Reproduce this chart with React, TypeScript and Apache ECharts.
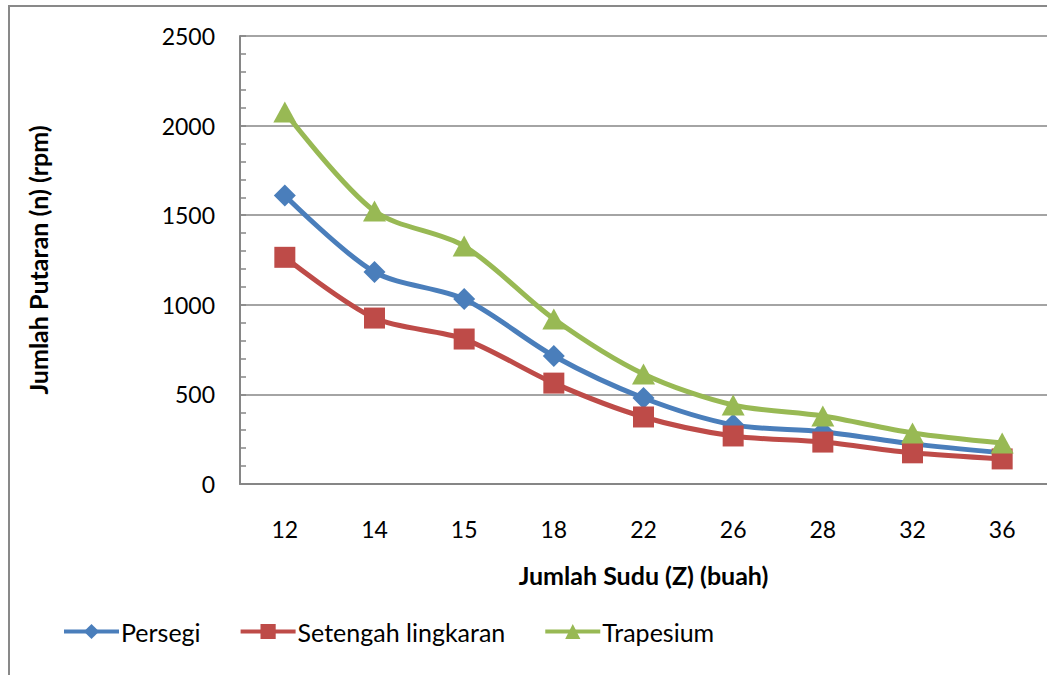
import React, { useEffect, useRef } from "react";
import * as echarts from "echarts";

const categories = ["12", "14", "15", "18", "22", "26", "28", "32", "36"];
const persegi = [1610, 1183, 1032, 714, 480, 330, 292, 224, 174];
const setengah = [1265, 926, 809, 563, 374, 268, 234, 174, 140];
const trapesium = [2076, 1523, 1328, 921, 614, 441, 379, 285, 229];
const yTicks = { min: 0, max: 2500, interval: 500 };

const FONT = "Lato, 'Open Sans', sans-serif";
const GRID = "#868686";

export default function App() {
  const ref = useRef<HTMLDivElement>(null);
  useEffect(() => {
    if (!ref.current) return;
    const chart = echarts.init(ref.current, undefined, { renderer: "svg" });
    const mk = (name: string, data: number[], color: string, symbol: string, size: number | number[]) => ({
      name,
      type: "line",
      data,
      smooth: 0.3,
      symbol,
      symbolSize: size,
      lineStyle: { color, width: 5 },
      itemStyle: { color },
      emphasis: { disabled: true },
    });
    chart.setOption({
      animation: false,
      backgroundColor: "#ffffff",
      textStyle: { fontFamily: FONT, color: "#000" },
      grid: { left: 240, top: 36, width: 810, height: 448, containLabel: false },
      xAxis: {
        type: "category",
        data: categories,
        boundaryGap: true,
        name: "Jumlah Sudu (Z) (buah)",
        nameLocation: "middle",
        nameGap: 78,
        nameTextStyle: { fontSize: 25, fontWeight: "bold", color: "#000", fontFamily: FONT },
        axisLine: { lineStyle: { color: GRID, width: 2 } },
        axisTick: { show: false },
        axisLabel: { fontSize: 23, color: "#000", margin: 33, fontFamily: FONT },
      },
      yAxis: {
        type: "value",
        min: yTicks.min,
        max: yTicks.max,
        interval: yTicks.interval,
        name: "Jumlah Putaran (n) (rpm)",
        nameLocation: "middle",
        nameGap: 190,
        nameRotate: 90,
        nameTextStyle: { fontSize: 25, fontWeight: "bold", color: "#000", fontFamily: FONT },
        axisLine: { show: true, lineStyle: { color: GRID, width: 2 } },
        axisTick: { show: true, inside: true, length: 6, lineStyle: { color: GRID, width: 1.5 } },
        minorTick: { show: true, splitNumber: 5, length: 6, lineStyle: { color: GRID, width: 1.5 } },
        splitLine: { show: true, lineStyle: { color: GRID, width: 1.5 } },
        axisLabel: {
          fontSize: 23,
          color: "#000",
          margin: 25,
          fontFamily: FONT,
          formatter: (v: number) => String(v),
        },
      },
      legend: {
        left: 57,
        top: 614,
        itemWidth: 55,
        itemHeight: 19,
        itemGap: 38,
        lineStyle: { width: 4 },
        textStyle: { fontSize: 25, color: "#000", fontFamily: FONT, padding: [0, 0, 0, -3] },
        data: ["Persegi", "Setengah lingkaran", "Trapesium"],
      },
      graphic: [
        {
          type: "rect",
          shape: { x: 9, y: 6, width: 1100, height: 700 },
          style: { fill: "none", stroke: "#898989", lineWidth: 2 },
          silent: true,
        },
      ],
      series: [
        mk("Persegi", persegi, "#4A7EBB", "diamond", 22),
        mk("Setengah lingkaran", setengah, "#BE4B48", "rect", 21),
        mk("Trapesium", trapesium, "#98B954", "triangle", [23, 21]),
      ],
    });
    return () => chart.dispose();
  }, []);
  return (
    <div
      ref={ref}
      style={{ position: "fixed", left: 0, top: 0, width: 1047, height: 675, background: "#fff" }}
    />
  );
}
